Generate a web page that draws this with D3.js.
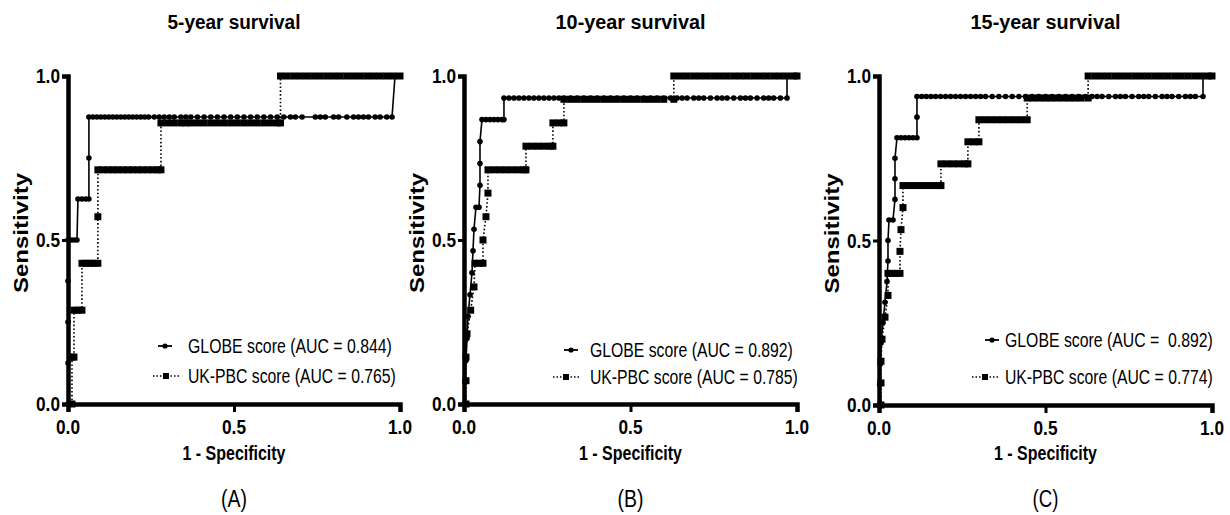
<!DOCTYPE html>
<html>
<head>
<meta charset="utf-8">
<script src="https://d3js.org/d3.v7.min.js"></script>
<style>
  body { margin: 0; background: #fff; }
  text { font-family: "Liberation Sans", Arial, sans-serif; fill: #000; }
</style>
</head>
<body>
<svg width="1230" height="515"></svg>
<script>

// each entry: [sensitivity, [1 - specificity values at that sensitivity]]
var globeA = [
  [0, [0]], [0.125, [0]], [0.25, [0]], [0.375, [0]],
  [0.5, [0, 0.009, 0.018, 0.027]],
  [0.625, [0.03, 0.042, 0.054, 0.063]],
  [0.75, [0.063]],
  [0.875, [0.063, 0.075, 0.087, 0.099, 0.111, 0.123, 0.135, 0.147, 0.159, 0.171, 0.183, 0.195, 0.207, 0.219,
           0.231, 0.243, 0.26, 0.275, 0.29, 0.305, 0.32, 0.34, 0.355, 0.37, 0.39, 0.41, 0.43, 0.45, 0.47, 0.49,
           0.51, 0.53, 0.55, 0.57, 0.59, 0.61, 0.63, 0.65, 0.67, 0.685, 0.705, 0.745, 0.76, 0.775, 0.8, 0.815,
           0.84, 0.86, 0.875, 0.89, 0.905, 0.925, 0.94, 0.96, 0.976]],
  [1, [0.985, 1]]
];
var ukA = [
  [0, [0.012]], [0.143, [0.012, 0.018]],
  [0.286, [0.018, 0.03, 0.042]],
  [0.429, [0.042, 0.054, 0.066, 0.078, 0.09]],
  [0.571, [0.09]],
  [0.714, [0.09, 0.105, 0.12, 0.135, 0.15, 0.165, 0.18, 0.195, 0.21, 0.225, 0.24, 0.255, 0.27, 0.28]],
  [0.857, [0.28, 0.3, 0.32, 0.34, 0.355, 0.37, 0.39, 0.41, 0.43, 0.45, 0.47, 0.49, 0.51, 0.53, 0.55, 0.57,
           0.59, 0.61, 0.63, 0.64]],
  [1, [0.64, 0.66, 0.68, 0.7, 0.72, 0.74, 0.76, 0.78, 0.8, 0.82, 0.84, 0.86, 0.88, 0.9, 0.92, 0.94, 0.96, 0.98, 1]]
];

var globeB = [
  [0, [0]], [0.067, [0.003]], [0.133, [0.006]], [0.2, [0.009]], [0.267, [0.012]], [0.333, [0.018]],
  [0.4, [0.024]], [0.467, [0.027]], [0.533, [0.03]], [0.6, [0.036, 0.045]],
  [0.667, [0.048]], [0.733, [0.048]], [0.8, [0.048]],
  [0.867, [0.054, 0.066, 0.078, 0.09, 0.102, 0.114, 0.12]],
  [0.933, [0.12, 0.135, 0.15, 0.165, 0.18, 0.195, 0.21, 0.225, 0.24, 0.255, 0.27, 0.285, 0.3, 0.32, 0.34,
           0.36, 0.38, 0.4, 0.42, 0.44, 0.46, 0.48, 0.5, 0.52, 0.54, 0.56, 0.58, 0.6, 0.62, 0.64, 0.655, 0.67,
           0.69, 0.705, 0.72, 0.74, 0.76, 0.775, 0.79, 0.81, 0.83, 0.845, 0.86, 0.88, 0.9, 0.915, 0.93, 0.95, 0.97]],
  [1, [0.97, 1]]
];
var ukB = [
  [0, [0.006]], [0.071, [0.006]], [0.143, [0.006]], [0.214, [0.009]], [0.286, [0.02]], [0.357, [0.03]],
  [0.429, [0.033, 0.045, 0.057]], [0.5, [0.057]], [0.571, [0.066]], [0.643, [0.072]],
  [0.714, [0.072, 0.09, 0.108, 0.126, 0.144, 0.162, 0.18, 0.186]],
  [0.786, [0.186, 0.204, 0.222, 0.24, 0.258, 0.267]],
  [0.857, [0.267, 0.285, 0.3]],
  [0.929, [0.3, 0.32, 0.34, 0.36, 0.38, 0.4, 0.42, 0.44, 0.46, 0.48, 0.5, 0.52, 0.54, 0.56, 0.58, 0.6, 0.63]],
  [1, [0.63, 0.65, 0.67, 0.69, 0.71, 0.73, 0.75, 0.77, 0.79, 0.81, 0.83, 0.85, 0.87, 0.89, 0.91, 0.93, 0.95,
       0.97, 0.99, 1]]
];

var globeC = [
  [0, [0]], [0.0625, [0.002]], [0.125, [0.004]], [0.1875, [0.006]], [0.25, [0.012]], [0.3125, [0.018]],
  [0.375, [0.024]], [0.4375, [0.027]], [0.5, [0.027]], [0.5625, [0.03, 0.042]],
  [0.625, [0.048]], [0.6875, [0.048]], [0.75, [0.048]],
  [0.8125, [0.054, 0.066, 0.078, 0.09, 0.102, 0.114]],
  [0.875, [0.114]],
  [0.9375, [0.114, 0.128, 0.142, 0.156, 0.17, 0.185, 0.2, 0.215, 0.23, 0.245, 0.26, 0.275, 0.29, 0.305, 0.32,
            0.34, 0.36, 0.38, 0.4, 0.42, 0.44, 0.46, 0.48, 0.5, 0.52, 0.54, 0.56, 0.58, 0.6, 0.62, 0.64, 0.655,
            0.67, 0.69, 0.71, 0.725, 0.74, 0.76, 0.78, 0.795, 0.81, 0.83, 0.85, 0.865, 0.88, 0.9, 0.92, 0.935,
            0.95, 0.973]],
  [1, [0.973, 1]]
];
var ukC = [
  [0, [0.006]], [0.067, [0.006]], [0.133, [0.006]], [0.2, [0.009]], [0.267, [0.018]], [0.333, [0.027]],
  [0.4, [0.027, 0.039, 0.051, 0.063]], [0.467, [0.063]], [0.533, [0.066]], [0.6, [0.072]],
  [0.667, [0.072, 0.09, 0.108, 0.126, 0.144, 0.162, 0.18, 0.186]],
  [0.733, [0.186, 0.204, 0.222, 0.24, 0.258, 0.267]],
  [0.8, [0.267, 0.285, 0.3]],
  [0.867, [0.3, 0.318, 0.336, 0.354, 0.372, 0.39, 0.408, 0.426, 0.445]],
  [0.933, [0.445, 0.463, 0.481, 0.499, 0.517, 0.535, 0.553, 0.571, 0.589, 0.607, 0.628]],
  [1, [0.628, 0.648, 0.668, 0.688, 0.708, 0.728, 0.748, 0.768, 0.788, 0.808, 0.828, 0.848, 0.868, 0.888,
       0.908, 0.928, 0.948, 0.968, 0.988, 1]]
];

var titles = ["5-year survival", "10-year survival", "15-year survival"];
var panelTags = ["(A)", "(B)", "(C)"];
var globeLabels = ["GLOBE score (AUC = 0.844)", "GLOBE score (AUC = 0.892)", "GLOBE score (AUC =  0.892)"];
var ukLabels = ["UK-PBC score (AUC = 0.765)", "UK-PBC score (AUC = 0.785)", "UK-PBC score (AUC = 0.774)"];
var tickValues = [0, 0.5, 1];

var globeData = [globeA, globeB, globeC];
var ukData = [ukA, ukB, ukC];

// layout of the three panels (text widths squeeze the font to the narrow look)
var layout = [
  {x0: 68, x1: 400, y0: 404, y1: 76, titleW: 133, legX: 188, legY: [346, 376], legW: [204, 208], mkG: 165, mkU: 166},
  {x0: 464, x1: 797, y0: 404, y1: 76, titleW: 150, legX: 590, legY: [350, 377], legW: [203, 208], mkG: 571, mkU: 566},
  {x0: 879, x1: 1212, y0: 405, y1: 76, titleW: 150, legX: 1005, legY: [340, 377], legW: [208, 208], mkG: 992, mkU: 985}
];

var svg = d3.select("svg");

function flatten(steps) {
  var pts = [];
  steps.forEach(function(s) {
    s[1].forEach(function(f) { pts.push({fpr: f, tpr: s[0]}); });
  });
  return pts;
}

// draw a text at (x, y), rotated if asked, squeezed horizontally to width w
function narrowText(parent, x, y, str, w, size, bold, anchor, rot) {
  var t = parent.append("text")
    .attr("dy", "0.35em").attr("text-anchor", anchor || "start")
    .attr("font-size", size).attr("font-weight", bold ? "bold" : "normal")
    .style("white-space", "pre").text(str);
  var s = w / t.node().getComputedTextLength();
  t.attr("transform", "translate(" + x + "," + y + ")" + (rot ? " rotate(" + rot + ")" : "") + " scale(" + s + ",1)");
  return t;
}

layout.forEach(function(L, i) {
  var x = d3.scaleLinear().domain([0, 1]).range([L.x0, L.x1]);
  var y = d3.scaleLinear().domain([0, 1]).range([L.y0, L.y1]);
  var g = svg.append("g");
  var cx = (L.x0 + L.x1) / 2;

  narrowText(g, cx, 22, titles[i], L.titleW, 21, true, "middle");

  // curves
  var line = d3.line().x(function(d) { return x(d.fpr); }).y(function(d) { return y(d.tpr); });
  var uk = flatten(ukData[i]), gl = flatten(globeData[i]);

  g.append("path").datum(uk)
    .attr("d", line).attr("fill", "none").attr("stroke", "#000")
    .attr("stroke-width", 1.6).attr("stroke-dasharray", "1.6,2.2");
  g.selectAll(".sq").data(uk).enter().append("rect")
    .attr("class", "sq")
    .attr("x", function(d) { return x(d.fpr) - 3.5; })
    .attr("y", function(d) { return y(d.tpr) - 3.5; })
    .attr("width", 7).attr("height", 7).attr("fill", "#000");

  g.append("path").datum(gl)
    .attr("d", line).attr("fill", "none").attr("stroke", "#000").attr("stroke-width", 1.6);
  g.selectAll(".dot").data(gl).enter().append("circle")
    .attr("class", "dot")
    .attr("cx", function(d) { return x(d.fpr); })
    .attr("cy", function(d) { return y(d.tpr); })
    .attr("r", 2.8).attr("fill", "#000");

  // axes, labels drawn separately so they can be narrowed
  var xa = g.append("g").attr("transform", "translate(0," + L.y0 + ")")
    .call(d3.axisBottom(x).tickValues(tickValues).tickFormat("").tickSize(8));
  var ya = g.append("g").attr("transform", "translate(" + L.x0 + ",0)")
    .call(d3.axisLeft(y).tickValues(tickValues).tickFormat("").tickSize(6));
  [xa, ya].forEach(function(a) {
    a.select(".domain").attr("stroke-width", 4.5).attr("stroke", "#000");
    a.selectAll(".tick line").attr("stroke-width", 3).attr("stroke", "#000");
  });
  tickValues.forEach(function(v) {
    narrowText(g, x(v), L.y0 + 23, d3.format(".1f")(v), 24, 20, true, "middle");
    narrowText(g, L.x0 - 8, y(v), d3.format(".1f")(v), 24, 20, true, "end");
  });

  // axis titles
  narrowText(g, cx, 453, "1 - Specificity", 103, 20, true, "middle");
  narrowText(g, L.x0 - 47, (L.y0 + L.y1) / 2 - 7, "Sensitivity", 120, 21, true, "middle", -90);
  narrowText(g, cx, 499, panelTags[i], 26, 24, false, "middle");

  // legend
  var lg = g.append("g");
  lg.append("line")
    .attr("x1", L.mkG - 7).attr("x2", L.mkG + 7).attr("y1", L.legY[0]).attr("y2", L.legY[0])
    .attr("stroke", "#000").attr("stroke-width", 1.8);
  lg.append("circle").attr("cx", L.mkG).attr("cy", L.legY[0]).attr("r", 2.6).attr("fill", "#000");
  lg.append("line")
    .attr("x1", L.mkU - 13).attr("x2", L.mkU + 13).attr("y1", L.legY[1]).attr("y2", L.legY[1])
    .attr("stroke", "#000").attr("stroke-width", 1.6).attr("stroke-dasharray", "1.5,2");
  lg.append("rect").attr("x", L.mkU - 3).attr("y", L.legY[1] - 3).attr("width", 6).attr("height", 6).attr("fill", "#000");
  narrowText(lg, L.legX, L.legY[0], globeLabels[i], L.legW[0], 21, false, "start");
  narrowText(lg, L.legX, L.legY[1], ukLabels[i], L.legW[1], 21, false, "start");
});

</script>
</body>
</html>
